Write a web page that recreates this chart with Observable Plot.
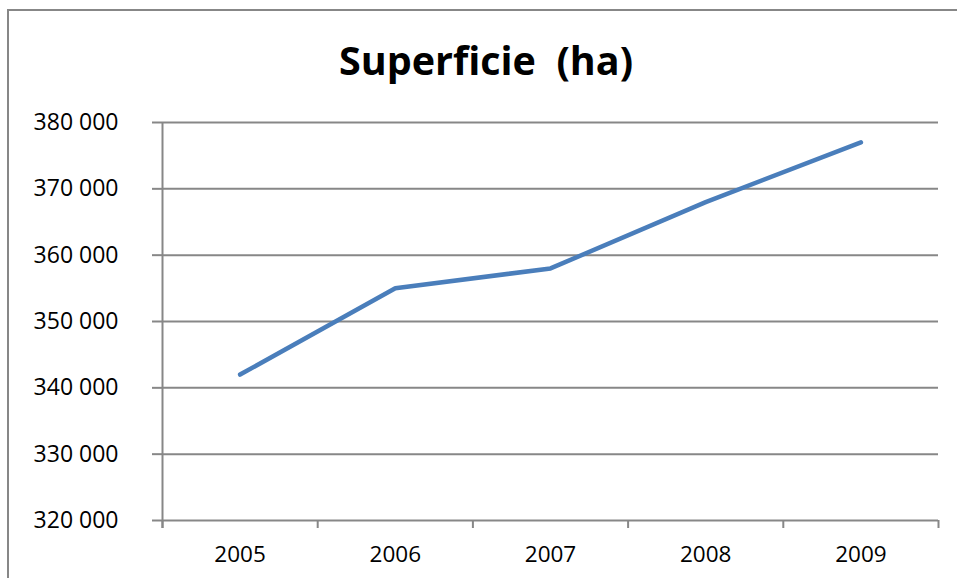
<!DOCTYPE html>
<html><head><meta charset="utf-8">
<script src="https://cdn.jsdelivr.net/npm/d3@7"></script>
<script src="https://cdn.jsdelivr.net/npm/@observablehq/plot@0.6"></script>
<style>
html,body{margin:0;padding:0;background:#fff;overflow:hidden;}
#wrap{position:relative;width:957px;height:578px;overflow:hidden;}
#frame{position:absolute;left:7px;top:9px;width:1000px;height:700px;border:2px solid #878787;box-sizing:border-box;}
#title{position:absolute;left:0;top:40px;width:972px;text-align:center;font:bold 39.5px "Open Sans";line-height:40px;color:#000;white-space:pre;}
#chart{position:absolute;left:0;top:0;}
</style>
</head><body>
<div id="wrap"><div id="frame"></div><div id="chart"></div><div id="title"></div></div>
<script>
const title = "Superficie  (ha)";
const years = [2005, 2006, 2007, 2008, 2009];
const surface = [342000, 355000, 358000, 368000, 377000];
const yTicks = [320000, 330000, 340000, 350000, 360000, 370000, 380000];
const yLabels = ["320 000", "330 000", "340 000", "350 000", "360 000", "370 000", "380 000"];

document.getElementById("title").textContent = title;

const x0 = years[0] - 0.5, x1 = years[years.length - 1] + 0.5;
const boundaries = years.map(y => y - 0.5).concat([x1]);
const grey = "#878787";

const chart = Plot.plot({
  width: 957,
  height: 578,
  marginLeft: 162,
  marginRight: 19,
  marginTop: 122,
  marginBottom: 58,
  style: {fontFamily: "'Open Sans'", fontSize: "22px", color: "#000", background: "transparent"},
  x: {type: "linear", domain: [x0, x1]},
  y: {domain: [yTicks[0], yTicks[yTicks.length - 1]]},
  marks: [
    Plot.ruleY(yTicks, {x1: x0, x2: x1, stroke: grey, strokeWidth: 2}),
    Plot.ruleX([x0], {y1: yTicks[yTicks.length - 1], y2: yTicks[0], insetTop: 0, insetBottom: -8, stroke: grey, strokeWidth: 2}),
    Plot.axisY({ticks: yTicks, tickFormat: (d) => yLabels[yTicks.indexOf(d)], tickSize: 10, tickPadding: 34, stroke: grey, strokeWidth: 2, fill: "#000", fontSize: 23, label: null}),
    Plot.axisX({ticks: boundaries, tickSize: 8, text: null, stroke: grey, strokeWidth: 2, label: null}),
    Plot.axisX({ticks: years, tickSize: 0, tickPadding: 26, tickFormat: d => String(d), fill: "#000", fontSize: 22.5, label: null}),
    Plot.line(years, {x: years, y: surface, stroke: "#4a7ebb", strokeWidth: 4.5, strokeLinecap: "round", strokeLinejoin: "round"})
  ]
});
document.getElementById("chart").appendChild(chart);
</script>
</body></html>
